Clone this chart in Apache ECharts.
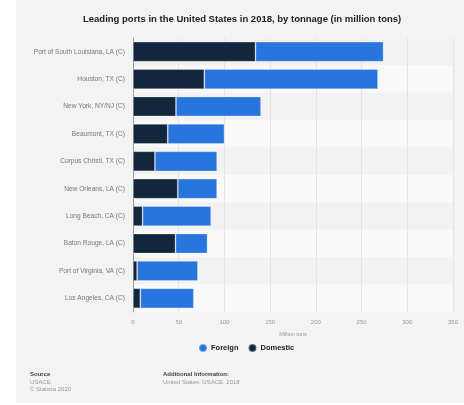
<!DOCTYPE html>
<html>
<head>
<meta charset="utf-8">
<script src="https://cdn.jsdelivr.net/npm/echarts@6/dist/echarts.min.js"></script>
<style>
    html, body { margin: 0; padding: 0; background: #fff; }
    #chart { width: 464px; height: 405px; }
</style>
</head>
<body>
<div id="chart"></div>
<script>
// 各港口吞吐量（百万吨）
var ports = [
    "Port of South Louisiana, LA (C)",
    "Houston, TX (C)",
    "New York, NY/NJ (C)",
    "Beaumont, TX (C)",
    "Corpus Christi, TX (C)",
    "New Orleans, LA (C)",
    "Long Beach, CA (C)",
    "Baton Rouge, LA (C)",
    "Port of Virginia, VA (C)",
    "Los Angeles, CA (C)"
];
var domestic = [134, 78, 47, 38, 24, 49, 10.5, 46.5, 4.5, 8];
var foreign = [140, 190, 93, 62, 68, 43, 75, 35, 66.5, 58.5];
var xTicks = [0, 50, 100, 150, 200, 250, 300, 350];

var font = "'Liberation Sans', Arial, sans-serif";
var chart = echarts.init(document.getElementById("chart"));
var option = {
    animation: false,
    textStyle: { fontFamily: font },
    graphic: [{
        type: 'rect',
        z: -10,
        shape: { x: 16, y: 0, width: 448, height: 403 },
        style: { fill: '#f3f3f3' }
    }, {
        type: 'group',
        left: 30, top: 371,
        children: [
            { type: 'text', style: { text: 'Source', x: 0, y: 0, font: 'bold 6px ' + font, fill: '#444' } },
            { type: 'text', style: { text: 'USACE', x: 0, y: 8, font: '6px ' + font, fill: '#999' } },
            { type: 'text', style: { text: '© Statista 2020', x: 0, y: 15, font: '6px ' + font, fill: '#999' } }
        ]
    }, {
        type: 'group',
        left: 163, top: 371,
        children: [
            { type: 'text', style: { text: 'Additional Information:', x: 0, y: 0, font: 'bold 6px ' + font, fill: '#444' } },
            { type: 'text', style: { text: 'United States; USACE; 2018', x: 0, y: 8, font: '6px ' + font, fill: '#999' } }
        ]
    }],
    title: {
        text: "Leading ports in the United States in 2018, by tonnage (in million tons)",
        left: 78, top: 9,
        textStyle: { fontSize: 9.5, fontWeight: 'bold', color: '#222', fontFamily: font }
    },
    legend: {
        data: ['Foreign', 'Domestic'],
        bottom: 47, left: 193,
        icon: 'circle', itemWidth: 8, itemHeight: 8, itemGap: 9, itemStyle: {},
        textStyle: { fontSize: 7.5, fontWeight: 'bold', color: '#222', fontFamily: font, padding: [0, 0, 0, -1] }
    },
    grid: { left: 133, right: 11, top: 38, bottom: 93, containLabel: false },
    xAxis: {
        type: 'value', min: 0, max: 350, interval: 50,
        name: 'Million tons', nameLocation: 'middle', nameGap: 19,
        nameTextStyle: { fontSize: 5.5, color: '#999' },
        axisLabel: {
            fontSize: 6, color: '#999', margin: 7,
            formatter: function (v) { return xTicks.indexOf(v) >= 0 ? String(v) : ''; }
        },
        axisLine: { show: false },
        axisTick: { show: false },
        splitLine: { show: true, lineStyle: { color: '#e4e4e4', width: 1 } }
    },
    yAxis: {
        type: 'category', inverse: true, data: ports,
        axisLabel: { fontSize: 6.6, color: '#777', margin: 8 },
        axisLine: { show: true, lineStyle: { color: '#999', width: 1 } },
        axisTick: { show: false },
        splitArea: { show: true, areaStyle: { color: ['#f2f2f2', '#f9f9f9'] } }
    },
    series: [{
        name: 'Domestic', type: 'bar', stack: 'total', barWidth: 20,
        itemStyle: { color: '#12273d', borderColor: 'rgba(255,255,255,0.35)', borderWidth: 0.8 },
        data: domestic
    }, {
        name: 'Foreign', type: 'bar', stack: 'total', barWidth: 20,
        itemStyle: { color: '#2876dd', borderColor: 'rgba(255,255,255,0.35)', borderWidth: 0.8 },
        data: foreign
    }]
};
chart.setOption(option, true);
</script>
</body>
</html>
